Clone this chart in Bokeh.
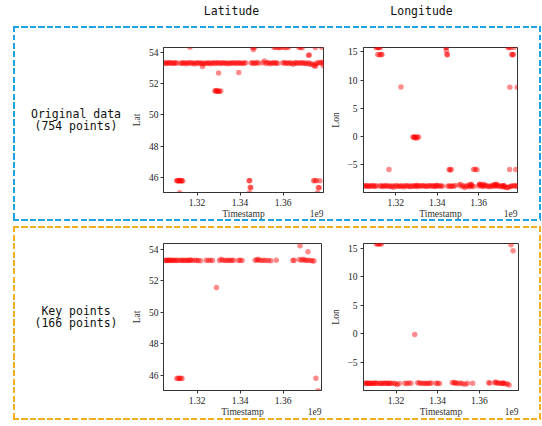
from bokeh.plotting import figure
from bokeh.layouts import row, column
from bokeh.models import Range1d, FixedTicker, LinearAxis, ColumnDataSource, Spacer
from bokeh.core.properties import value
from bokeh.embed import file_html
from bokeh.resources import INLINE

# ---------------- data (timestamps in units of 1e9 s) ----------------
col_titles = ["Latitude", "Longitude"]
row_titles = [("Original data", "(754 points)"), ("Key points", "(166 points)")]
x_label = "Timestamp"
x_offset_text = "1e9"
x_ticks = [1.32, 1.34, 1.36]
lat_ticks = [46, 48, 50, 52, 54]
lon_ticks = [-5, 0, 5, 10, 15]

# original data: points at the home location
orig_home_t = [
    1.3046, 1.3052, 1.3058, 1.3063, 1.3069, 1.3075, 1.3081, 1.3088, 1.3094, 1.3100, 1.3106,
    1.3123, 1.3129, 1.3136, 1.3142, 1.3149, 1.3155, 1.3162, 1.3170, 1.3177, 1.3183,
    1.3190, 1.3197, 1.3204, 1.3211, 1.3218, 1.3224, 1.3231, 1.3238, 1.3245, 1.3252,
    1.3258, 1.3265, 1.3272, 1.3279, 1.3286, 1.3293, 1.3300, 1.3307, 1.3314, 1.3321,
    1.3328, 1.3335, 1.3342, 1.3349, 1.3356, 1.3363, 1.3370, 1.3377, 1.3384, 1.3391,
    1.3398, 1.3405, 1.3412, 1.3419, 1.3426,
    1.3451, 1.3458, 1.3465, 1.3472, 1.3479, 1.3487,
    1.3506, 1.3513, 1.3520, 1.3527, 1.3534, 1.3541, 1.3548, 1.3555, 1.3562, 1.3569, 1.3574,
    1.3598, 1.3605, 1.3612, 1.3619, 1.3626, 1.3633, 1.3640, 1.3647, 1.3654, 1.3661, 1.3666,
    1.3675, 1.3682, 1.3689, 1.3696, 1.3703, 1.3710, 1.3717, 1.3724, 1.3731, 1.3738, 1.3745, 1.3752, 1.3758,
    1.3767, 1.3774, 1.3781, 1.3788,
]
orig_home_lat = [
    53.32, 53.35, 53.30, 53.33, 53.36, 53.31, 53.34, 53.29, 53.33, 53.35, 53.31,
    53.33, 53.30, 53.35, 53.32, 53.28, 53.34, 53.31, 53.36, 53.30, 53.33,
    53.27, 53.34, 53.31, 53.35, 53.29, 53.32, 53.26, 53.33, 53.30, 53.35,
    53.31, 53.28, 53.34, 53.32, 53.30, 53.36, 53.33, 53.29, 53.34, 53.31,
    53.35, 53.30, 53.32, 53.28, 53.34, 53.31, 53.33, 53.35, 53.30, 53.32,
    53.34, 53.29, 53.33, 53.31, 53.35,
    53.32, 53.35, 53.30, 53.33, 53.36, 53.31,
    53.34, 53.45, 53.30, 53.36, 53.32, 53.28, 53.33, 53.35, 53.31, 53.34, 53.30,
    53.33, 53.36, 53.30, 53.34, 53.29, 53.35, 53.31, 53.24, 53.33, 53.36, 53.30,
    53.34, 53.31, 53.36, 53.30, 53.33, 53.28, 53.35, 53.25, 53.30, 53.22, 53.15, 53.27, 53.32,
    53.36, 53.33, 53.38, 53.35,
]
orig_home_lon = [
    -8.72, -8.80, -8.68, -8.76, -8.84, -8.70, -8.78, -8.65, -8.74, -8.82, -8.71,
    -8.75, -8.69, -8.83, -8.72, -8.78, -8.66, -8.80, -8.74, -8.90, -8.71,
    -8.95, -8.77, -8.68, -8.85, -8.73, -8.79, -8.70, -8.92, -8.76, -8.67,
    -8.81, -8.74, -8.88, -8.72, -8.78, -8.69, -8.84, -8.75, -8.71, -8.80,
    -8.66, -8.77, -8.73, -8.82, -8.70, -8.76, -8.68, -8.79, -8.74, -8.83,
    -8.71, -8.77, -8.69, -8.81, -8.75,
    -8.78, -8.70, -8.84, -8.73, -8.79, -8.68,
    -8.60, -8.45, -8.85, -8.72, -9.00, -8.78, -8.66, -8.90, -8.74, -8.70, -8.82,
    -8.76, -8.45, -8.70, -8.85, -8.73, -8.62, -8.80, -8.74, -8.90, -8.69, -8.78,
    -8.72, -8.80, -8.66, -8.77, -8.85, -8.70, -8.92, -8.75, -8.95, -9.05, -8.98, -8.82, -8.76,
    -8.74, -8.68, -8.80, -8.72,
]
# original data: trips away from home
orig_away_t = [
    1.3105, 1.3109, 1.3113, 1.3117, 1.3119, 1.3121, 1.3125, 1.3129, 1.3133,
    1.3167, 1.3225,
    1.3283, 1.3287, 1.3291, 1.3295, 1.3299, 1.3304, 1.3310,
    1.3300, 1.3394,
    1.3442, 1.3445, 1.3444, 1.3447, 1.3450,
    1.3458, 1.3462, 1.3468,
    1.3558, 1.3565, 1.3576, 1.3584, 1.3592, 1.3605, 1.3615, 1.3625,
    1.3674, 1.3682, 1.3689, 1.3718, 1.3722,
    1.3742, 1.3748, 1.3755, 1.3760, 1.3764, 1.3768, 1.3771,
    1.3750, 1.3780, 1.3751, 1.3787,
]
orig_away_lat = [
    45.78, 45.80, 45.77, 45.79, 45.02, 45.80, 45.78, 45.79, 45.77,
    54.33, 53.10,
    51.55, 51.52, 51.57, 51.54, 51.50, 51.52, 51.53,
    52.68, 52.72,
    45.79, 45.80, 45.01, 45.36, 45.34,
    54.32, 54.19, 54.32,
    54.32, 54.33, 54.32, 54.31, 54.33, 54.32, 54.31, 54.33,
    54.32, 54.33, 54.31, 53.82, 53.84,
    45.79, 45.80, 45.78, 45.02, 45.35, 45.33, 45.79,
    54.32, 54.33, 53.12, 53.15,
]
orig_away_lon = [
    15.75, 15.74, 14.50, 15.75, 15.76, 14.48, 15.75, 14.52, 14.49,
    -5.85, 8.75,
    -0.10, -0.12, -0.08, -0.15, -0.30, -0.05, -0.12,
    -8.62, -8.60,
    15.75, 15.74, 15.17, 14.47, 14.50,
    -5.85, -5.90, -5.82,
    -8.50, -8.45, -5.85, -5.80, -5.88, -8.48, -8.52, -8.46,
    -8.47, -8.50, -8.45, -8.70, -8.72,
    15.75, 15.74, 15.76, 14.50, 14.48, 14.52, 15.75,
    -5.85, -5.85, 8.70, 8.70,
]

# key points
key_home_t = [
    1.3050, 1.3055, 1.3060, 1.3065, 1.3070, 1.3075, 1.3080, 1.3086, 1.3092, 1.3098, 1.3104, 1.3110,
    1.3121, 1.3127, 1.3133, 1.3140, 1.3147, 1.3154, 1.3160, 1.3166, 1.3172, 1.3178,
    1.3190, 1.3198, 1.3206, 1.3216,
    1.3242, 1.3252, 1.3262, 1.3272,
    1.3304, 1.3312, 1.3320, 1.3330, 1.3338, 1.3346, 1.3354, 1.3362, 1.3370,
    1.3392, 1.3400, 1.3409,
    1.3470, 1.3478, 1.3483, 1.3490, 1.3500, 1.3510, 1.3520, 1.3532, 1.3543,
    1.3568,
    1.3645, 1.3651,
    1.3675, 1.3685, 1.3692, 1.3700, 1.3708, 1.3716, 1.3726, 1.3735, 1.3743,
]
key_home_lat = [
    53.30, 53.32, 53.29, 53.31, 53.30, 53.33, 53.30, 53.31, 53.29, 53.32, 53.30, 53.31,
    53.30, 53.32, 53.30, 53.31, 53.29, 53.32, 53.30, 53.31, 53.33, 53.30,
    53.31, 53.29, 53.30, 53.28,
    53.31, 53.30, 53.32, 53.30,
    53.30, 53.38, 53.32, 53.30, 53.31, 53.29, 53.32, 53.30, 53.31,
    53.30, 53.31, 53.30,
    53.31, 53.33, 53.38, 53.32, 53.30, 53.31, 53.29, 53.30, 53.28,
    53.31,
    53.30, 53.31,
    53.36, 53.31, 53.38, 53.33, 53.30, 53.31, 53.29, 53.28, 53.26,
]
key_home_lon = [
    -8.72, -8.76, -8.70, -8.74, -8.78, -8.71, -8.75, -8.73, -8.77, -8.70, -8.74, -8.72,
    -8.75, -8.71, -8.77, -8.73, -8.70, -8.76, -8.72, -8.74, -8.78, -8.71,
    -8.74, -8.80, -8.95, -8.78,
    -8.72, -8.75, -8.70, -8.74,
    -8.62, -8.70, -8.74, -8.71, -8.76, -8.72, -8.75, -8.73, -8.70,
    -8.74, -8.71, -8.76,
    -8.60, -8.66, -8.58, -8.72, -8.75, -8.70, -8.80, -8.92, -8.74,
    -8.72,
    -8.62, -8.66,
    -8.64, -8.70, -8.66, -8.74, -8.78, -8.72, -8.80, -8.85, -9.02,
]
key_away_t = [1.3106, 1.3112, 1.3118, 1.3124, 1.3130, 1.3290, 1.3678, 1.3715, 1.3752, 1.3762]
key_away_lat = [45.79, 45.80, 45.78, 45.80, 45.79, 51.58, 54.23, 53.85, 45.80, 45.01]
key_away_lon = [15.82, 15.84, 15.83, 15.82, 15.84, -0.15, -8.50, -8.68, 15.70, 14.62]

for a, b, c in [(orig_home_t, orig_home_lat, orig_home_lon), (orig_away_t, orig_away_lat, orig_away_lon),
                (key_home_t, key_home_lat, key_home_lon), (key_away_t, key_away_lat, key_away_lon)]:
    assert len(a) == len(b) == len(c), (len(a), len(b), len(c))

orig_t = orig_home_t + orig_away_t
orig_lat = orig_home_lat + orig_away_lat
orig_lon = orig_home_lon + orig_away_lon
key_t = key_home_t + key_away_t
key_lat = key_home_lat + key_away_lat
key_lon = key_home_lon + key_away_lon

# ---------------- styling ----------------
SERIF = "Liberation Serif"
MONO = "DejaVu Sans Mono"
BLUE = "#1ea2e4"
ORANGE = "#f2ae1c"


def style_axis(ax):
    ax.axis_line_color = "#333333"
    ax.major_tick_line_color = "#333333"
    ax.major_tick_out = 3
    ax.major_tick_in = 0
    ax.minor_tick_line_color = None
    ax.major_label_text_font = SERIF
    ax.major_label_text_font_size = "9.5px"
    ax.major_label_text_color = "#222222"
    ax.axis_label_text_font = SERIF
    ax.axis_label_text_font_size = "9.5px"
    ax.axis_label_text_font_style = "normal"
    ax.axis_label_text_color = "#333333"


def data_plot(t, v, xr, yr, yticks, ylabel, w, h, bl, br, bt, bb, ystand, ylstand):
    p = figure(width=w, height=h, x_range=Range1d(*xr), y_range=Range1d(*yr),
               min_border_left=bl, min_border_right=br, min_border_top=bt, min_border_bottom=bb,
               output_backend="svg", toolbar_location=None, tools="")
    src = ColumnDataSource(dict(t=t, v=v))
    p.scatter("t", "v", source=src, size=5.5, fill_color="red", fill_alpha=0.45, line_color=None)
    p.grid.visible = False
    p.outline_line_color = "#333333"
    p.outline_line_alpha = 1.0
    p.background_fill_color = "white"
    p.border_fill_color = "white"
    p.xaxis.ticker = FixedTicker(ticks=x_ticks)
    p.yaxis.ticker = FixedTicker(ticks=yticks)
    p.yaxis.axis_label = ylabel
    style_axis(p.xaxis[0])
    style_axis(p.yaxis[0])
    p.xaxis.major_label_standoff = 3
    p.yaxis.major_label_standoff = ystand
    p.yaxis.axis_label_standoff = ylstand

    # second row under the x axis: "Timestamp" centred, offset text "1e9" at the right end
    fw = w - bl - br
    per_px = (xr[1] - xr[0]) / fw
    mid = round((xr[0] + xr[1]) / 2, 5)
    right = round(xr[1] - 7 * per_px, 5)
    lab_axis = LinearAxis(ticker=FixedTicker(ticks=[mid, right]),
                          major_label_overrides={mid: x_label, right: x_offset_text})
    style_axis(lab_axis)
    lab_axis.axis_line_color = None
    lab_axis.major_tick_line_color = None
    lab_axis.major_tick_out = 0
    lab_axis.major_label_standoff = 0
    lab_axis.major_label_text_color = "#333333"
    p.add_layout(lab_axis, "below")
    return p


def text_fig(w, h, xs, ys, texts):
    p = figure(width=w, height=h, x_range=Range1d(0, w), y_range=Range1d(h, 0),
               min_border=0, output_backend="svg", toolbar_location=None, tools="")
    p.axis.visible = False
    p.grid.visible = False
    p.outline_line_color = None
    p.text(x=xs, y=ys, text=texts, text_font=value(MONO), text_font_size="11.5px",
           text_align="center", text_baseline="middle", text_color="#111111")
    return p


def box_sheet(color):
    h = ("repeating-linear-gradient(90deg, " + color + " 0px, " + color + " 6px, "
         "transparent 6px, transparent 8.5px)")
    v = ("repeating-linear-gradient(180deg, " + color + " 0px, " + color + " 6px, "
         "transparent 6px, transparent 8.5px)")
    return (":host::after { content: ''; position: absolute; left: 0; top: 0; right: 0; bottom: 0;"
            " pointer-events: none; z-index: 10; background: "
            + h + " left top / 100% 2px no-repeat, "
            + h + " left bottom / 100% 2px no-repeat, "
            + v + " left top / 2px 100% no-repeat, "
            + v + " right top / 2px 100% no-repeat; }")


title_fig = text_fig(542, 26, [231, 421], [10.5, 10.5], col_titles)

H1, H2 = 195, 194
lab1 = text_fig(115, H1, [62.5, 62.5], [89, 105.5], list(row_titles[0]))
lat1 = data_plot(orig_t, orig_lat, (1.3044, 1.3788), (45.03, 54.32), lat_ticks, "Lat",
                 200, H1, 34, 5, 21, 28, 2, 4)
lon1 = data_plot(orig_t, orig_lon, (1.3044, 1.3788), (-9.9, 15.75), lon_ticks, "Lon",
                 213, H1, 30, 24, 21, 28, 3, 3)

lab2 = text_fig(115, H2, [62.5, 62.5], [89, 105], list(row_titles[1]))
lat2 = data_plot(key_t, key_lat, (1.3044, 1.3778), (45.02, 54.38), lat_ticks, "Lat",
                 200, H2, 34, 7, 17, 30, 2, 4)
lon2 = data_plot(key_t, key_lon, (1.3044, 1.3788), (-10.0, 15.9), lon_ticks, "Lon",
                 213, H2, 30, 23, 17, 30, 3, 3)

box1 = row(lab1, lat1, lon1, stylesheets=[box_sheet(BLUE)])
box2 = row(lab2, lat2, lon2, stylesheets=[box_sheet(ORANGE)])

layout = column(
    title_fig,
    row(Spacer(width=13, height=H1), box1),
    Spacer(width=10, height=5),
    row(Spacer(width=13, height=H2), box2),
)

open("out.html", "w").write(file_html(layout, INLINE))
